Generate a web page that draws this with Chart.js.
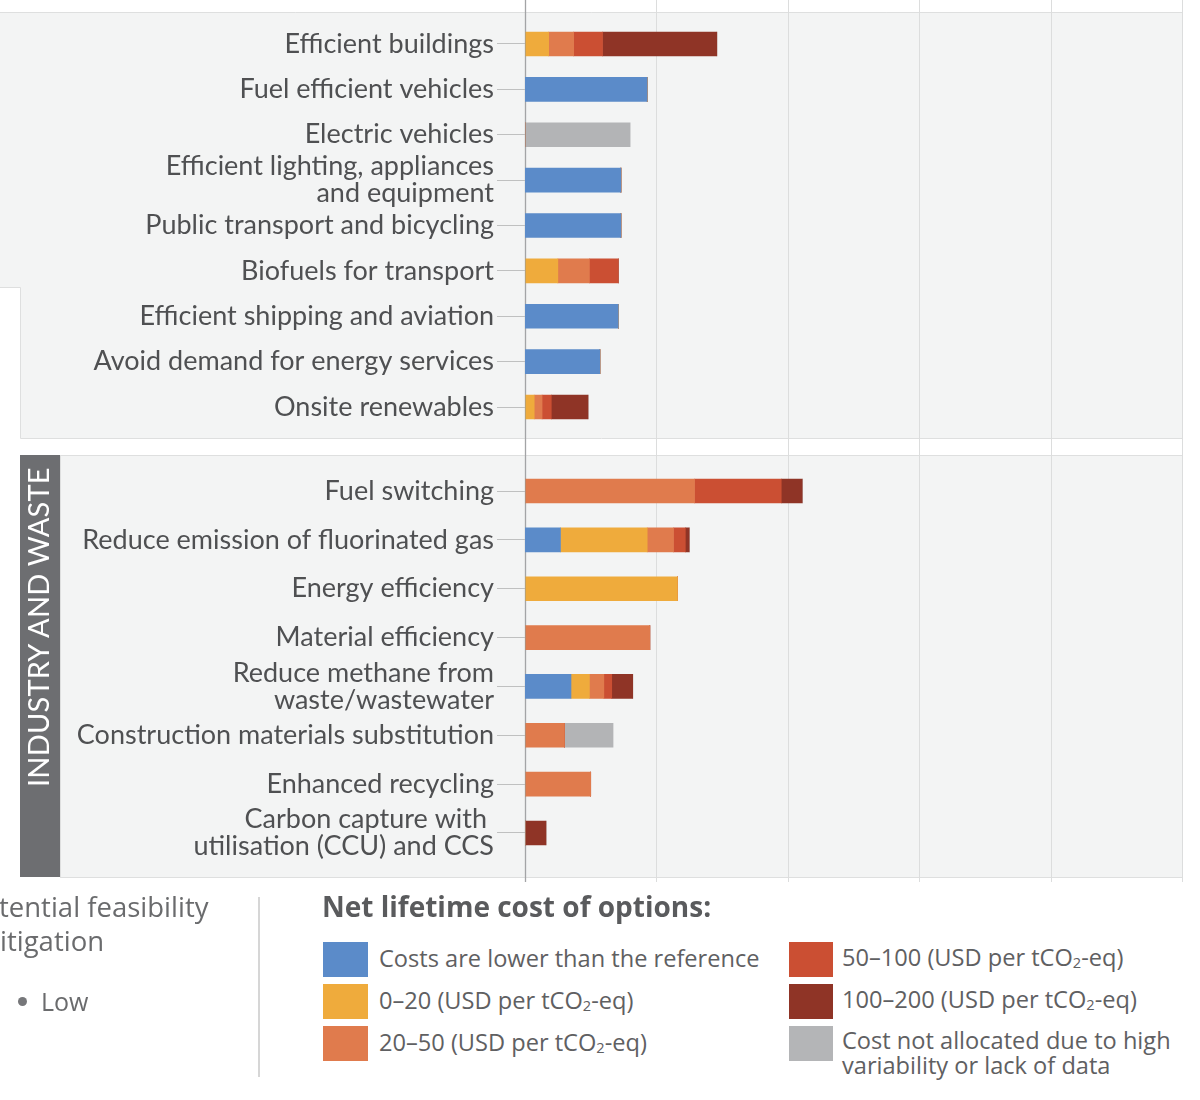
<!DOCTYPE html>
<html>
<head>
<meta charset="utf-8">
<script src="https://cdn.jsdelivr.net/npm/chart.js@4.4.1/dist/chart.umd.min.js"></script>
<style>
html,body{margin:0;padding:0;background:#fff;}
#wrap{position:relative;width:1200px;height:1100px;overflow:hidden;font-family:"Open Sans",Lato,sans-serif;}
canvas{position:absolute;left:0;}
.t{position:absolute;white-space:nowrap;color:#5f6062;line-height:1.2em;}
.sw{position:absolute;width:45px;height:35px;}
sub{font-size:0.62em;vertical-align:-0.12em;line-height:0;}
#sector{position:absolute;left:-173px;top:646px;width:422px;height:40px;line-height:40px;box-sizing:border-box;padding-left:90px;transform:rotate(-90deg);transform-origin:50% 50%;color:#fff;font-family:Lato,sans-serif;font-size:29px;white-space:nowrap;z-index:3;letter-spacing:0.2px;}
</style>
</head>
<body>
<div id="wrap">
  <canvas id="c1" width="1200" height="446" style="top:0;width:1200px;height:446px;"></canvas>
  <canvas id="c2" width="1200" height="444" style="top:446px;width:1200px;height:444px;"></canvas>
  <div id="sector">INDUSTRY AND WASTE</div>

  <div class="t" style="left:-1px;top:890px;font-size:27.5px;color:#6a6b6d;">tential feasibility</div>
  <div class="t" style="left:0px;top:924px;font-size:27.5px;color:#6a6b6d;">itigation</div>
  <div style="position:absolute;left:18px;top:997px;width:9px;height:9px;border-radius:50%;background:#76777a;"></div>
  <div class="t" style="left:41px;top:986px;font-size:25px;color:#6a6b6d;">Low</div>
  <div style="position:absolute;left:258px;top:897px;width:2px;height:180px;background:#d6d6d6;"></div>

  <div class="t" style="left:322px;top:890px;font-size:28px;font-weight:bold;color:#5a5b5d;">Net lifetime cost of options:</div>

  <div class="sw" style="left:323px;top:942px;background:#5b8bc9;"></div>
  <div class="sw" style="left:323px;top:984px;background:#efab3c;"></div>
  <div class="sw" style="left:323px;top:1026px;background:#e07b4d;"></div>
  <div class="t" style="left:379px;top:944px;font-size:23.6px;">Costs are lower than the reference</div>
  <div class="t" style="left:379px;top:986px;font-size:23.6px;">0–20 (USD per tCO<sub>2</sub>-eq)</div>
  <div class="t" style="left:379px;top:1028px;font-size:23.6px;">20–50 (USD per tCO<sub>2</sub>-eq)</div>

  <div class="sw" style="left:789px;top:942px;width:44px;background:#cb4f33;"></div>
  <div class="sw" style="left:789px;top:984px;width:44px;background:#8f3426;"></div>
  <div class="sw" style="left:789px;top:1026px;width:44px;background:#b4b5b7;"></div>
  <div class="t" style="left:842px;top:943px;font-size:23.6px;">50–100 (USD per tCO<sub>2</sub>-eq)</div>
  <div class="t" style="left:842px;top:985px;font-size:23.6px;">100–200 (USD per tCO<sub>2</sub>-eq)</div>
  <div class="t" style="left:842px;top:1026px;font-size:23.6px;">Cost not allocated due to high</div>
  <div class="t" style="left:842px;top:1051px;font-size:23.6px;">variability or lack of data</div>
</div>

<script>
// ---------------- DATA (GtCO2-eq/yr) ----------------
const topCategories = [
  "Efficient buildings",
  "Fuel efficient vehicles",
  "Electric vehicles",
  ["Efficient lighting, appliances", "and equipment"],
  "Public transport and bicycling",
  "Biofuels for transport",
  "Efficient shipping and aviation",
  "Avoid demand for energy services",
  "Onsite renewables"
];
const topBlue    = [0,    0.93, 0,    0.73, 0.73, 0,    0.71, 0.57, 0];
const topYellow  = [0.18, 0,    0,    0,    0,    0.25, 0,    0,    0.07];
const topOrange  = [0.19, 0,    0,    0,    0,    0.24, 0,    0,    0.06];
const topRed     = [0.22, 0,    0,    0,    0,    0.22, 0,    0,    0.07];
const topDarkRed = [0.87, 0,    0,    0,    0,    0,    0,    0,    0.28];
const topGray    = [0,    0,    0.80, 0,    0,    0,    0,    0,    0];

const botCategories = [
  "Fuel switching",
  "Reduce emission of fluorinated gas",
  "Energy efficiency",
  "Material efficiency",
  ["Reduce methane from", "waste/wastewater"],
  "Construction materials substitution",
  "Enhanced recycling",
  ["Carbon capture with ", "utilisation (CCU) and CCS"]
];
const botBlue    = [0,    0.27, 0,    0,    0.35, 0,    0,    0];
const botYellow  = [0,    0.66, 1.16, 0,    0.14, 0,    0,    0];
const botOrange  = [1.29, 0.20, 0,    0.95, 0.11, 0.30, 0.50, 0];
const botRed     = [0.66, 0.09, 0,    0,    0.06, 0,    0,    0];
const botDarkRed = [0.16, 0.03, 0,    0,    0.16, 0,    0,    0.16];
const botGray    = [0,    0,    0,    0,    0,    0.37, 0,    0];

const costClasses = [
  "Costs are lower than the reference",
  "0–20 (USD per tCO2-eq)",
  "20–50 (USD per tCO2-eq)",
  "50–100 (USD per tCO2-eq)",
  "100–200 (USD per tCO2-eq)",
  "Cost not allocated due to high variability or lack of data"
];
const xGridValues = [0, 1, 2, 3, 4, 5];
const xMin = 0, xMax = 5;

// ---------------- STYLE ----------------
const colors = ["#5b8bc9", "#efab3c", "#e07b4d", "#cb4f33", "#8f3426", "#b3b4b6"];
const PANEL = "#f3f4f4", PANEL_LINE = "#dedfdf";

function bgPlugin(drawPanel, gridBottom) {
  return {
    id: 'bg',
    beforeDraw(chart) {
      const ctx = chart.ctx;
      ctx.save();
      drawPanel(ctx);
      const xs = chart.scales.x;
      xGridValues.forEach(v => {
        const px = Math.round(xs.getPixelForValue(v)) + 0.5;
        ctx.beginPath();
        ctx.strokeStyle = v === 0 ? '#a3a4a6' : '#dcdddd';
        ctx.lineWidth = v === 0 ? 1.3 : 1;
        ctx.moveTo(px, 0);
        ctx.lineTo(px, gridBottom);
        ctx.stroke();
      });
      ctx.restore();
    }
  };
}

function makeChart(id, labels, series, padTop, padBottom, drawPanel, gridBottom) {
  const datasets = series.map((d, i) => ({
    label: costClasses[i],
    data: d,
    backgroundColor: colors[i],
    borderWidth: 0,
    borderSkipped: false
  }));
  return new Chart(document.getElementById(id), {
    type: 'bar',
    data: { labels, datasets },
    options: {
      indexAxis: 'y',
      responsive: false,
      animation: false,
      events: [],
      datasets: { bar: { barThickness: 24 } },
      layout: { padding: { left: 0, right: 18, top: padTop, bottom: padBottom } },
      plugins: { legend: { display: false }, tooltip: { enabled: false } },
      scales: {
        x: { stacked: true, min: xMin, max: xMax, display: false },
        y: {
          stacked: true,
          position: 'left',
          afterFit(s) { s.width = 525; s.paddingTop = 0; s.paddingBottom = 0; },
          border: { display: false },
          grid: { display: true, offset: false, drawOnChartArea: false, drawTicks: true, tickLength: 28, color: '#bfc0c0', lineWidth: 1 },
          ticks: {
            autoSkip: false,
            padding: 3,
            color: '#4f5052',
            font: { family: 'Lato', size: 27, lineHeight: 1.0 }
          }
        }
      }
    },
    plugins: [bgPlugin(drawPanel, gridBottom)]
  });
}

function drawTopPanel(ctx) {
  ctx.fillStyle = PANEL;
  ctx.beginPath();
  ctx.moveTo(0, 12); ctx.lineTo(1182, 12); ctx.lineTo(1182, 438);
  ctx.lineTo(20, 438); ctx.lineTo(20, 287); ctx.lineTo(0, 287); ctx.closePath();
  ctx.fill();
  ctx.strokeStyle = PANEL_LINE; ctx.lineWidth = 1;
  ctx.beginPath();
  ctx.moveTo(0, 12.5); ctx.lineTo(1182.5, 12.5); ctx.lineTo(1182.5, 438.5);
  ctx.lineTo(20.5, 438.5); ctx.lineTo(20.5, 287.5); ctx.lineTo(0, 287.5);
  ctx.stroke();
}
function drawBottomPanel(ctx) {
  ctx.fillStyle = PANEL;
  ctx.fillRect(60, 9, 1122, 422);
  ctx.strokeStyle = PANEL_LINE; ctx.lineWidth = 1;
  ctx.strokeRect(60.5, 9.5, 1122, 422);
  ctx.fillStyle = '#6d6e71';
  ctx.fillRect(20, 9, 40, 422);
}

makeChart('c1', topCategories,
  [topBlue, topYellow, topOrange, topRed, topDarkRed, topGray],
  21.3, 16.3, drawTopPanel, 446);
makeChart('c2', botCategories,
  [botBlue, botYellow, botOrange, botRed, botDarkRed, botGray],
  20.6, 32.6, drawBottomPanel, 436);
</script>
</body>
</html>
